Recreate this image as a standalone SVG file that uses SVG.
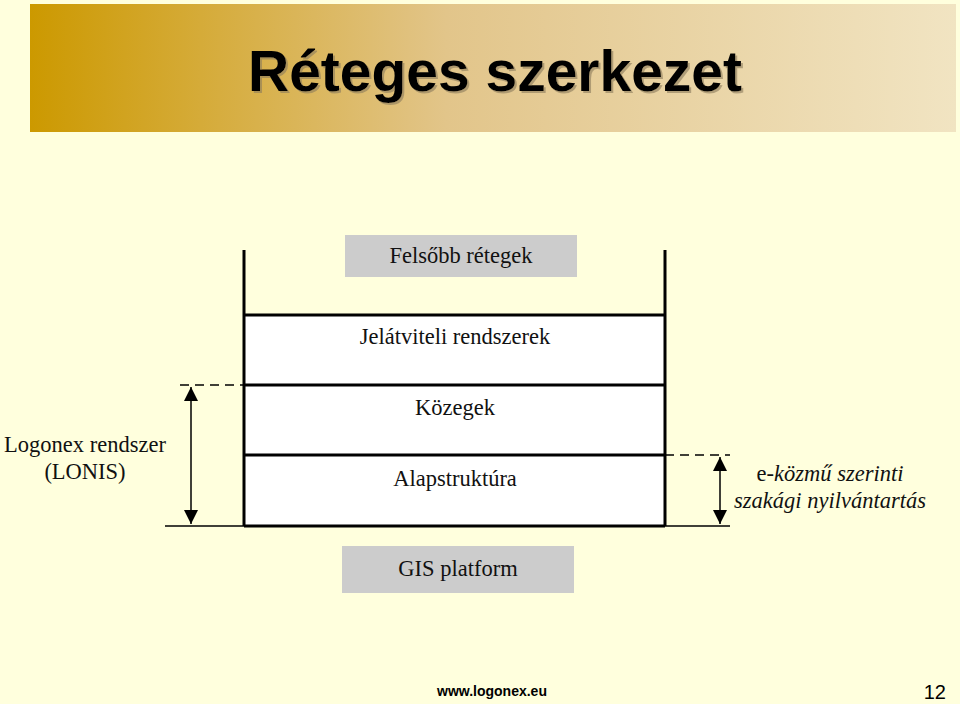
<svg xmlns="http://www.w3.org/2000/svg" width="960" height="704" viewBox="0 0 960 704">
<defs>
<linearGradient id="band" x1="0" y1="0" x2="1" y2="0">
<stop offset="0" stop-color="#CC9900"/>
<stop offset="0.45" stop-color="#E2C58A"/>
<stop offset="1" stop-color="#F1E4C2"/>
</linearGradient>
<filter id="sh" x="-5%" y="-20%" width="110%" height="140%">
<feDropShadow dx="2" dy="2" stdDeviation="0.5" flood-color="#8A7A5A" flood-opacity="0.6"/>
</filter>
<marker id="ah" viewBox="0 0 10 10" refX="10" refY="5" markerWidth="14" markerHeight="14" markerUnits="userSpaceOnUse" orient="auto-start-reverse">
<path d="M0,0 L10,5 L0,10 Z" fill="#000"/>
</marker>
<style>
.t{font-family:'Liberation Serif','Times New Roman',serif;font-size:22.5px;fill:#111;text-anchor:middle}
.it{font-style:italic}
.box{stroke:#000;stroke-width:3;fill:none}
.dash{stroke:#000;stroke-width:1.5;stroke-dasharray:9,6;fill:none}
.thin{stroke:#000;stroke-width:1.5;fill:none}
.gray{fill:#CCCCCC}
.ttl{font-family:'Liberation Sans',Arial,sans-serif;font-weight:bold;font-size:58px;text-anchor:middle}
</style>
</defs>
<rect width="960" height="704" fill="#FFFFDD"/>
<g id="title">
<rect x="30" y="4" width="926" height="128" fill="url(#band)"/>
<text class="ttl" x="495" y="91" textLength="494" lengthAdjust="spacingAndGlyphs" fill="#000" filter="url(#sh)">Réteges szerkezet</text>
</g>
<g id="layers-bg">
<rect x="244" y="315" width="421" height="211" fill="#FFFFFF"/>
</g>
<g id="felsobb">
<rect class="gray" x="345" y="235" width="232" height="42"/>
<text class="t" x="461" y="263">Felsőbb rétegek</text>
</g>
<g id="jelatviteli">
<text class="t" x="455" y="344">Jelátviteli rendszerek</text>
</g>
<g id="kozegek">
<text class="t" x="455" y="415">Közegek</text>
</g>
<g id="alapstruktura">
<text class="t" x="455" y="486">Alapstruktúra</text>
</g>
<g id="gis">
<rect class="gray" x="342" y="546" width="232" height="47"/>
<text class="t" x="458" y="576">GIS platform</text>
</g>
<g id="lonis">
<text class="t" x="85" y="452">Logonex rendszer</text>
<text class="t" x="85" y="479">(LONIS)</text>
</g>
<g id="ekozmu">
<text class="t" x="830" y="481">e-<tspan class="it">közmű szerinti</tspan></text>
<text class="t it" x="830" y="508">szakági nyilvántartás</text>
</g>
<g id="connectors">
<path class="box" d="M244,250 V526 M665,250 V526 M244,315 H665 M244,385 H665 M244,455 H665 M244,526 H665"/>
<path class="dash" d="M180,385 H244"/>
<path class="thin" d="M165,526 H244"/>
<line class="thin" x1="191" y1="387" x2="191" y2="524" marker-start="url(#ah)" marker-end="url(#ah)"/>
<path class="dash" d="M665,455 H730"/>
<path class="thin" d="M665,526 H730"/>
<line class="thin" x1="720" y1="457" x2="720" y2="524" marker-start="url(#ah)" marker-end="url(#ah)"/>
</g>
<g id="footer">
<text x="437" y="696" font-family="'Liberation Sans',Arial,sans-serif" font-weight="bold" font-size="14" fill="#000">www.logonex.eu</text>
<text x="946" y="699" font-family="'Liberation Sans',Arial,sans-serif" font-size="20" text-anchor="end" fill="#000">12</text>
</g>
</svg>
